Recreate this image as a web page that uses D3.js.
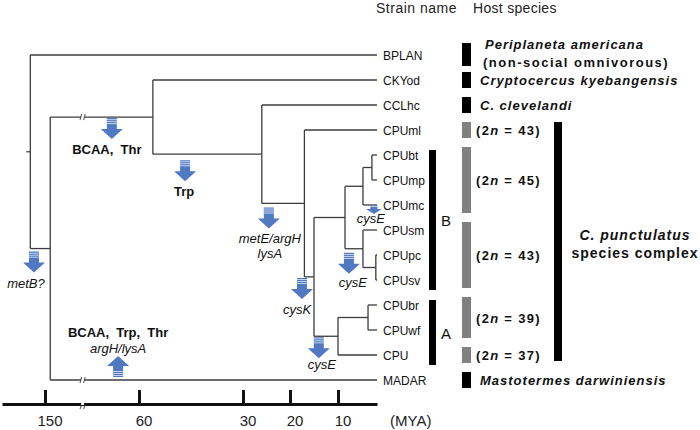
<!DOCTYPE html>
<html><head><meta charset="utf-8">
<script src="https://cdn.jsdelivr.net/npm/d3@7"></script>
<style>body{margin:0;background:#fff}svg{display:block;font-family:"Liberation Sans",Arial,sans-serif}</style>
</head><body><svg id="c" width="700" height="430"></svg>
<script>
// ---------- data ----------
const leafNames = ["BPLAN","CKYod","CCLhc","CPUml","CPUbt","CPUmp","CPUmc","CPUsm","CPUpc","CPUsv","CPUbr","CPUwf","CPU","MADAR"];
const nodeIds = ["root","n1","n2","n3","n4","n5","nB","nB1","nB1a","nB2","nB2a","nA","nA1"];
const nodeAges = [164,145,56,26,17,15,8.2,3.6,1.3,3.6,0.3,10,2.3];
const nodeChildren = [["BPLAN","n1"],["n2","MADAR"],["CKYod","n3"],["CCLhc","n4"],["CPUml","n5"],["nB","nA"],["nB1","nB2"],["nB1a","CPUmc"],["CPUbt","CPUmp"],["CPUsm","nB2a"],["CPUpc","CPUsv"],["nA1","CPU"],["CPUbr","CPUwf"]];
const brokenBranches = ["n2","MADAR"];
const breakAge = 114;
const tickValues = [150,60,30,20,10];
const axisUnit = "(MYA)";
const eventAges = [86,46.7,24.5,17.5,14,7.2,0.8,160.5,80];
const eventBranches = ["n2","n3","n4","n5","nA","nB2","CPUmc","n1","MADAR"];
const eventDirs = ["down","down","down","down","down","down","down","down","up"];
const eventLabels = [
  [["BCAA,\u00a0 Thr","b"]],
  [["Trp","b"]],
  [["metE/argH","i"],["lysA","i"]],
  [["cysK","i"]],
  [["cysE","i"]],
  [["cysE","i"]],
  [["cysE","i"]],
  [["metB?","i"]],
  [["BCAA,\u00a0 Trp,\u00a0 Thr","b"],["argH/lysA","i"]]
];
const cladeNames = ["B","A"];
const cladeRanges = [["CPUbt","CPUsv"],["CPUbr","CPU"]];
const hostRanges = [["BPLAN","BPLAN"],["CKYod","CKYod"],["CCLhc","CCLhc"],["CPUml","CPUml"],["CPUbt","CPUmc"],["CPUsm","CPUsv"],["CPUbr","CPUwf"],["CPU","CPU"],["MADAR","MADAR"]];
const hostKinds = ["species","species","species","karyo","karyo","karyo","karyo","karyo","species"];
const hostTexts = [["Periplaneta americana","(non-social omnivorous)"],["Cryptocercus kyebangensis"],["C. clevelandi"],["43"],["45"],["43"],["39"],["37"],["Mastotermes darwiniensis"]];
const complexRange = ["CPUml","CPU"];
const complexText = ["C. punctulatus","species complex"];
const headers = ["Strain name","Host species"];

// ---------- scales ----------
const svg = d3.select("#c");
const x = d3.scaleLinear().domain([191,150,60,30,20,10,0]).range([2,45,139,243,290,338,377]);
const yLeaf = d3.scalePoint().domain(leafNames).range([55,380]);
const ageOf = {}, yOf = {};
leafNames.forEach(n => { ageOf[n] = 0; yOf[n] = yLeaf(n); });
nodeIds.forEach((n,i) => ageOf[n] = nodeAges[i]);
const childMap = {}; nodeIds.forEach((n,i) => childMap[n] = nodeChildren[i]);
function calcY(n){ if (yOf[n] !== undefined) return yOf[n]; const c = childMap[n]; const ys = c.map(calcY); yOf[n] = (d3.min(ys)+d3.max(ys))/2; return yOf[n]; }
calcY("root");

const lineCol = "#3c3c3c";
const gT = svg.append("g").attr("stroke", lineCol).attr("stroke-width", 1.3).attr("fill","none");
nodeIds.forEach(n => {
  const c = childMap[n], ys = c.map(k => yOf[k]);
  gT.append("line").attr("x1", x(ageOf[n])).attr("x2", x(ageOf[n])).attr("y1", d3.min(ys)).attr("y2", d3.max(ys));
  c.forEach(k => gT.append("line").attr("x1", x(ageOf[n])).attr("x2", x(ageOf[k])).attr("y1", yOf[k]).attr("y2", yOf[k]));
});
gT.append("line").attr("x1", x(ageOf.root)-4).attr("x2", x(ageOf.root)).attr("y1", yOf.root).attr("y2", yOf.root);

function breakMark(g, bx, by){
  g.append("rect").attr("x", bx-1.5).attr("y", by-3).attr("width",3).attr("height",6).attr("fill","#fff");
  [-1.8, 1.8].forEach(d => g.append("line").attr("x1", bx+d-0.8).attr("x2", bx+d+0.8).attr("y1", by+3).attr("y2", by-3)
      .attr("stroke", lineCol).attr("stroke-width", 0.9));
}
brokenBranches.forEach(b => breakMark(svg, x(breakAge), yOf[b]));

// axis
const axisY = 404;
const gA = svg.append("g").attr("transform", `translate(0,${axisY})`)
  .call(d3.axisBottom(x).tickValues(tickValues).tickSizeInner(-14).tickSizeOuter(0).tickPadding(11).tickFormat(d3.format("d")));
gA.select(".domain").attr("stroke","#111").attr("stroke-width",3);
gA.selectAll(".tick line").attr("stroke","#111").attr("stroke-width",3);
gA.selectAll(".tick text").attr("font-size",15).attr("dx",4.5).attr("fill","#222").attr("font-family",'"Liberation Sans",Arial,sans-serif');
gA.append("rect").attr("x", x(breakAge)-1.5).attr("y",-1).attr("width",3).attr("height",2).attr("fill","#fff");
[-1.8,1.8].forEach(d => gA.append("line").attr("x1", x(breakAge)+d-0.8).attr("x2", x(breakAge)+d+0.8).attr("y1", 5).attr("y2", 1).attr("stroke","#333").attr("stroke-width",0.9));
svg.append("text").attr("x", 390).attr("y", 426).attr("font-size",15).attr("fill","#222").text(axisUnit);

// arrows
const arrowCol = "#5079c2";
function arrow(cx, ty, dir, small){
  const W = small?16:22, H = small?9:21, sw = small?7:10, hh = small?5:10;
  const g = svg.append("g");
  if (dir === "down"){
    g.append("path").attr("fill", arrowCol).attr("d",
      `M${cx-sw/2},${ty}H${cx+sw/2}V${ty+H-hh}H${cx+W/2}L${cx},${ty+H}L${cx-W/2},${ty+H-hh}H${cx-sw/2}Z`);
    const n = small?1:3;
    for (let i=0;i<n;i++) g.append("rect").attr("x",cx-sw/2).attr("y",ty+1.2+i*2).attr("width",sw).attr("height",0.8).attr("fill","#dfe8f7");
  } else {
    const by = ty;
    g.append("path").attr("fill", arrowCol).attr("d",
      `M${cx-sw/2},${by}H${cx+sw/2}V${by-H+hh}H${cx+W/2}L${cx},${by-H}L${cx-W/2},${by-H+hh}H${cx-sw/2}Z`);
    for (let i=0;i<3;i++) g.append("rect").attr("x",cx-sw/2).attr("y",by-2-i*2).attr("width",sw).attr("height",0.8).attr("fill","#dfe8f7");
  }
  return H;
}
const nudge = {0:[-5,0,1],1:[-1,0,6],2:[1,0,4],3:[-5,0,1],4:[3,-4,1],5:[4,-2,4],6:[-3,0,0],7:[-8,0,3],8:[0,0,-3]};
eventAges.forEach((a,i) => {
  const cx = x(a), by = yOf[eventBranches[i]];
  const [dx, dl, gap] = nudge[i];
  const small = i === 6;
  const g = svg.append("g");
  if (eventDirs[i] === "down"){
    const top = by + gap;
    const H = arrow(cx, top, "down", small);
    eventLabels[i].forEach((l,j) => {
      g.append("text").attr("x", cx+dx).attr("y", top+H+(small?9:15)+dl+j*15).attr("text-anchor","middle")
        .attr("font-size",13).attr("fill","#111")
        .attr("font-weight", l[1]==="b"?"bold":"normal").attr("font-style", l[1]==="i"?"italic":"normal").text(l[0]);
    });
  } else {
    const bottom = by + gap;
    arrow(cx, bottom, "up", false);
    eventLabels[i].forEach((l,j) => {
      g.append("text").attr("x", cx+dx).attr("y", bottom-40+j*16).attr("text-anchor","middle")
        .attr("font-size",13).attr("fill","#111")
        .attr("font-weight", l[1]==="b"?"bold":"normal").attr("font-style", l[1]==="i"?"italic":"normal").text(l[0]);
    });
  }
});

// leaf labels
svg.append("g").selectAll("text").data(leafNames).join("text")
  .attr("x", 383).attr("y", d => yOf[d]+4.5).attr("font-size",12).attr("fill","#111").text(d => d);

// headers
svg.append("text").attr("x",376).attr("y",13).attr("font-size",14).attr("letter-spacing",0.5).attr("fill","#222").text(headers[0]);
svg.append("text").attr("x",473).attr("y",13).attr("font-size",14).attr("letter-spacing",0.3).attr("fill","#222").text(headers[1]);

// clade bars
cladeNames.forEach((c,i) => {
  const y0 = yOf[cladeRanges[i][0]]-5, y1 = yOf[cladeRanges[i][1]]+10;
  svg.append("rect").attr("x",429).attr("y",y0).attr("width",7).attr("height",y1-y0).attr("fill","#000");
  svg.append("text").attr("x",441).attr("y",(y0+y1)/2+6).attr("font-size",15).attr("fill","#111").text(c);
});

// host bars + texts
hostRanges.forEach((r,i) => {
  const two = hostTexts[i].length > 1;
  const y0 = yOf[r[0]] - (two?12:8), y1 = yOf[r[1]] + (two?11:8);
  svg.append("rect").attr("x",462).attr("y",y0).attr("width",9).attr("height",y1-y0)
    .attr("fill", hostKinds[i]==="species" ? "#000" : "#808080");
  const cy = (y0+y1)/2;
  if (hostKinds[i] === "species"){
    if (two){
      svg.append("text").attr("x",485).attr("y",yOf[r[0]]-6).attr("font-size",13).attr("letter-spacing",1).attr("font-weight","bold").attr("font-style","italic").attr("fill","#111").text(hostTexts[i][0]);
      svg.append("text").attr("x",483).attr("y",yOf[r[0]]+12).attr("font-size",13).attr("letter-spacing",1.5).attr("font-weight","bold").attr("fill","#111").text(hostTexts[i][1]);
    } else {
      svg.append("text").attr("x",480).attr("y",cy+5).attr("font-size",13).attr("letter-spacing",1).attr("font-weight","bold").attr("font-style","italic").attr("fill","#111").text(hostTexts[i][0]);
    }
  } else {
    const t = svg.append("text").attr("x",476).attr("y",cy+5).attr("font-size",13).attr("letter-spacing",1.3).attr("font-weight","bold").attr("fill","#111");
    t.append("tspan").text("(2");
    t.append("tspan").attr("font-style","italic").text("n");
    t.append("tspan").text(" = " + hostTexts[i][0] + ")");
  }
});

// complex bar
{
  const y0 = yOf[complexRange[0]]-8, y1 = yOf[complexRange[1]]+6;
  svg.append("rect").attr("x",554).attr("y",y0).attr("width",8).attr("height",y1-y0).attr("fill","#000");
  svg.append("text").attr("x",635).attr("y",240).attr("text-anchor","middle").attr("font-size",14).attr("letter-spacing",1).attr("font-weight","bold").attr("font-style","italic").attr("fill","#111").text(complexText[0]);
  svg.append("text").attr("x",635).attr("y",258).attr("text-anchor","middle").attr("font-size",14).attr("letter-spacing",1).attr("font-weight","bold").attr("fill","#111").text(complexText[1]);
}
</script></body></html>
